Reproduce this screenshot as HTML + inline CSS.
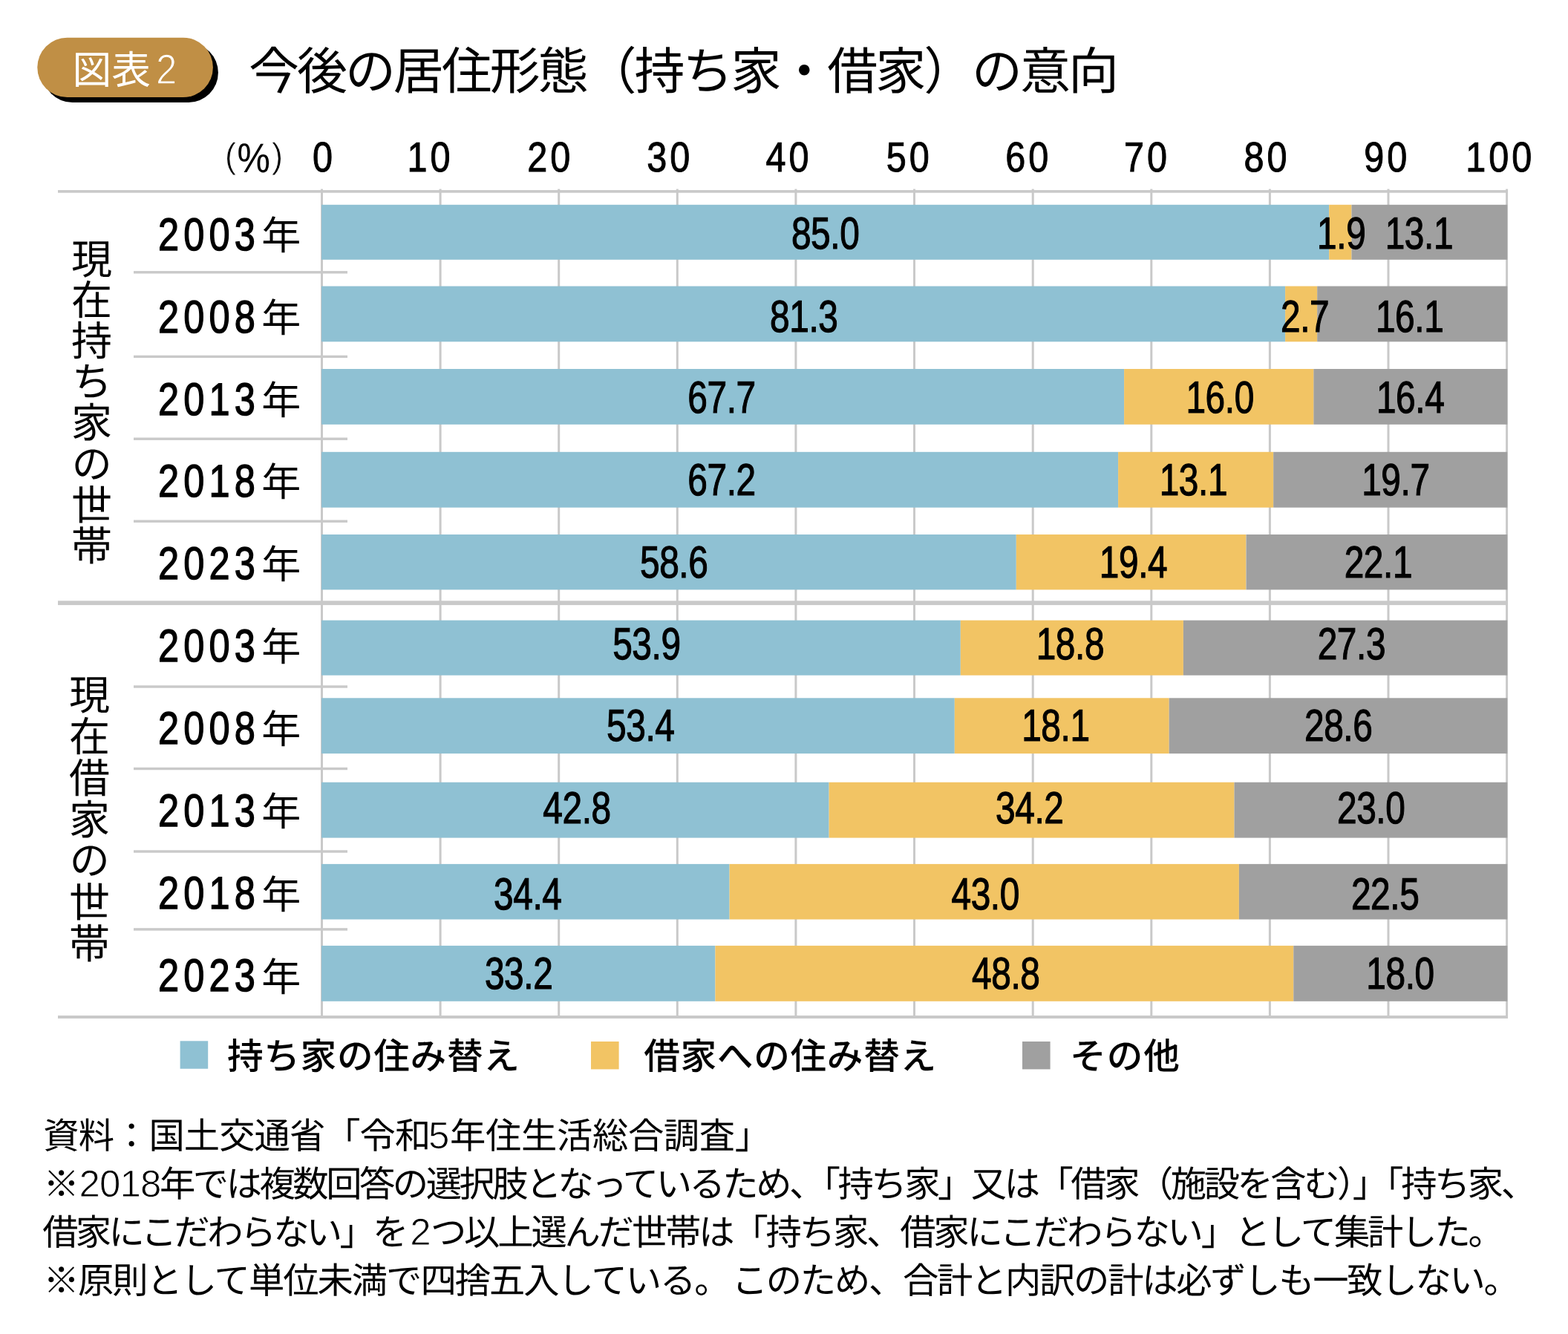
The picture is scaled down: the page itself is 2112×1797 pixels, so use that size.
<!DOCTYPE html>
<html lang="ja">
<head>
<meta charset="utf-8">
<title>図表2 今後の居住形態（持ち家・借家）の意向</title>
<style>
html,body{margin:0;padding:0;background:#fff}
body{width:2112px;height:1797px;overflow:hidden;font-family:"Liberation Sans","Noto Sans CJK JP",sans-serif}
svg{display:block;font-family:"Liberation Sans","Noto Sans CJK JP",sans-serif;text-rendering:geometricPrecision;will-change:transform}
.t{fill:#000;stroke:none;font-family:"Liberation Sans","Noto Sans CJK JP",sans-serif}
</style>
</head>
<body>
<svg width="2112" height="1797" viewBox="0 0 2112 1797">
<g fill="#c9c9c9">
<rect x="78" y="256.1" width="1953.0" height="3.6"/>
<rect x="78" y="1368" width="1953.0" height="4"/>
<rect x="78" y="809.3" width="1953.0" height="5.8"/>
<rect x="432.0" y="254.6" width="3" height="1115.4"/>
<rect x="591.6" y="254.6" width="3" height="1115.4"/>
<rect x="751.2" y="254.6" width="3" height="1115.4"/>
<rect x="910.8" y="254.6" width="3" height="1115.4"/>
<rect x="1070.4" y="254.6" width="3" height="1115.4"/>
<rect x="1230.0" y="254.6" width="3" height="1115.4"/>
<rect x="1389.7" y="254.6" width="3" height="1115.4"/>
<rect x="1549.3" y="254.6" width="3" height="1115.4"/>
<rect x="1708.9" y="254.6" width="3" height="1115.4"/>
<rect x="1868.5" y="254.6" width="3" height="1115.4"/>
<rect x="2028.1" y="254.6" width="3" height="1115.4"/>
<rect x="180" y="365.1" width="288" height="3.4"/>
<rect x="180" y="478.7" width="288" height="3.4"/>
<rect x="180" y="589.5" width="288" height="3.4"/>
<rect x="180" y="700.5" width="288" height="3.4"/>
<rect x="180" y="923.3" width="288" height="3.4"/>
<rect x="180" y="1033.8" width="288" height="3.4"/>
<rect x="180" y="1145.3" width="288" height="3.4"/>
<rect x="180" y="1250.2" width="288" height="3.4"/>
</g>
<rect x="433" y="275.8" width="1357.2" height="74.0" fill="#8fc1d3"/>
<rect x="1790.2" y="275.8" width="30.3" height="74.0" fill="#f2c464"/>
<rect x="1820.5" y="275.8" width="209.7" height="74.0" fill="#a0a0a0"/>
<rect x="433" y="385.5" width="1298.1" height="74.8" fill="#8fc1d3"/>
<rect x="1731.1" y="385.5" width="43.1" height="74.8" fill="#f2c464"/>
<rect x="1774.2" y="385.5" width="256.0" height="74.8" fill="#a0a0a0"/>
<rect x="433" y="497.0" width="1081.1" height="74.8" fill="#8fc1d3"/>
<rect x="1514.1" y="497.0" width="255.4" height="74.8" fill="#f2c464"/>
<rect x="1769.4" y="497.0" width="260.8" height="74.8" fill="#a0a0a0"/>
<rect x="433" y="608.8" width="1073.1" height="74.9" fill="#8fc1d3"/>
<rect x="1506.1" y="608.8" width="209.1" height="74.9" fill="#f2c464"/>
<rect x="1715.2" y="608.8" width="315.0" height="74.9" fill="#a0a0a0"/>
<rect x="433" y="720.0" width="935.8" height="74.4" fill="#8fc1d3"/>
<rect x="1368.8" y="720.0" width="309.6" height="74.4" fill="#f2c464"/>
<rect x="1678.5" y="720.0" width="351.7" height="74.4" fill="#a0a0a0"/>
<rect x="433" y="835.6" width="860.8" height="74.1" fill="#8fc1d3"/>
<rect x="1293.8" y="835.6" width="300.1" height="74.1" fill="#f2c464"/>
<rect x="1593.9" y="835.6" width="436.3" height="74.1" fill="#a0a0a0"/>
<rect x="433" y="940.3" width="852.8" height="74.8" fill="#8fc1d3"/>
<rect x="1285.8" y="940.3" width="288.9" height="74.8" fill="#f2c464"/>
<rect x="1574.7" y="940.3" width="455.5" height="74.8" fill="#a0a0a0"/>
<rect x="433" y="1053.8" width="683.6" height="74.8" fill="#8fc1d3"/>
<rect x="1116.6" y="1053.8" width="545.9" height="74.8" fill="#f2c464"/>
<rect x="1662.5" y="1053.8" width="367.7" height="74.8" fill="#a0a0a0"/>
<rect x="433" y="1163.9" width="549.6" height="74.6" fill="#8fc1d3"/>
<rect x="982.6" y="1163.9" width="686.3" height="74.6" fill="#f2c464"/>
<rect x="1668.9" y="1163.9" width="361.3" height="74.6" fill="#a0a0a0"/>
<rect x="433" y="1273.9" width="530.4" height="74.9" fill="#8fc1d3"/>
<rect x="963.4" y="1273.9" width="778.9" height="74.9" fill="#f2c464"/>
<rect x="1742.3" y="1273.9" width="287.9" height="74.9" fill="#a0a0a0"/>
<rect x="57.3" y="57.7" width="236.6" height="80.3" rx="40.15" fill="#000"/>
<rect x="50.3" y="50.7" width="236.6" height="80.3" rx="40.15" fill="#c08f45"/>
<text class="t" x="97.6" y="113.3" font-size="52.7" style="fill:#fff">図表</text>
<text transform="translate(224.20 113.20) scale(0.8930 1)" x="0.00" font-size="57.00" text-anchor="middle" fill="#fff" stroke="#c08f45" stroke-width="1.30">2</text>
<text class="t" x="335.0" y="120.4" font-size="68" textLength="1172" lengthAdjust="spacing">今後の居住形態（持ち家・借家）の意向</text>
<text transform="translate(434.50 231.30) scale(0.8600 1)" x="2.33" font-size="56.50" text-anchor="middle" fill="#000" stroke="#000" stroke-width="1.00" style="letter-spacing:4.65px;">0</text>
<text transform="translate(577.50 231.30) scale(0.8600 1)" x="2.33" font-size="56.50" text-anchor="middle" fill="#000" stroke="#000" stroke-width="1.00" style="letter-spacing:4.65px;">10</text>
<text transform="translate(739.30 231.30) scale(0.8600 1)" x="2.33" font-size="56.50" text-anchor="middle" fill="#000" stroke="#000" stroke-width="1.00" style="letter-spacing:4.65px;">20</text>
<text transform="translate(900.20 231.30) scale(0.8600 1)" x="2.33" font-size="56.50" text-anchor="middle" fill="#000" stroke="#000" stroke-width="1.00" style="letter-spacing:4.65px;">30</text>
<text transform="translate(1060.40 231.30) scale(0.8600 1)" x="2.33" font-size="56.50" text-anchor="middle" fill="#000" stroke="#000" stroke-width="1.00" style="letter-spacing:4.65px;">40</text>
<text transform="translate(1222.80 231.30) scale(0.8600 1)" x="2.33" font-size="56.50" text-anchor="middle" fill="#000" stroke="#000" stroke-width="1.00" style="letter-spacing:4.65px;">50</text>
<text transform="translate(1383.30 231.30) scale(0.8600 1)" x="2.33" font-size="56.50" text-anchor="middle" fill="#000" stroke="#000" stroke-width="1.00" style="letter-spacing:4.65px;">60</text>
<text transform="translate(1543.00 231.30) scale(0.8600 1)" x="2.33" font-size="56.50" text-anchor="middle" fill="#000" stroke="#000" stroke-width="1.00" style="letter-spacing:4.65px;">70</text>
<text transform="translate(1704.60 231.30) scale(0.8600 1)" x="2.33" font-size="56.50" text-anchor="middle" fill="#000" stroke="#000" stroke-width="1.00" style="letter-spacing:4.65px;">80</text>
<text transform="translate(1866.30 231.30) scale(0.8600 1)" x="2.33" font-size="56.50" text-anchor="middle" fill="#000" stroke="#000" stroke-width="1.00" style="letter-spacing:4.65px;">90</text>
<text transform="translate(2018.80 231.30) scale(0.8600 1)" x="2.33" font-size="56.50" text-anchor="middle" fill="#000" stroke="#000" stroke-width="1.00" style="letter-spacing:4.65px;">100</text>
<text transform="translate(310.60 225.90) scale(0.9700 1)" x="0.00" font-size="48.00" text-anchor="middle" fill="#000" stroke="#fff" stroke-width="0.90">(</text>
<text transform="translate(341.70 231.60) scale(0.8960 1)" x="0.00" font-size="55.70" text-anchor="middle" fill="#000" stroke="#000" stroke-width="0.10">%</text>
<text transform="translate(373.60 225.90) scale(0.9700 1)" x="0.00" font-size="48.00" text-anchor="middle" fill="#000" stroke="#fff" stroke-width="0.90">)</text>
<text transform="translate(213.10 336.80) scale(0.8200 1)" x="0.00" font-size="61.60" text-anchor="start" fill="#000" stroke="#000" stroke-width="1.40" style="letter-spacing:7.45px;">2003</text>
<text class="t" x="352.2" y="335.9" font-size="53.0">年</text>
<text transform="translate(1111.80 334.70) scale(0.7900 1)" x="-0.25" font-size="60.50" text-anchor="middle" fill="#000" stroke="#000" stroke-width="1.20" style="letter-spacing:-0.50px;">85.0</text>
<text transform="translate(1806.90 334.70) scale(0.7900 1)" x="-0.25" font-size="60.50" text-anchor="middle" fill="#000" stroke="#000" stroke-width="1.20" style="letter-spacing:-0.50px;">1.9</text>
<text transform="translate(1911.60 334.70) scale(0.7900 1)" x="-0.25" font-size="60.50" text-anchor="middle" fill="#000" stroke="#000" stroke-width="1.20" style="letter-spacing:-0.50px;">13.1</text>
<text transform="translate(213.10 447.65) scale(0.8200 1)" x="0.00" font-size="61.60" text-anchor="start" fill="#000" stroke="#000" stroke-width="1.40" style="letter-spacing:7.45px;">2008</text>
<text class="t" x="352.2" y="446.7" font-size="53.0">年</text>
<text transform="translate(1083.00 446.50) scale(0.7900 1)" x="-0.25" font-size="60.50" text-anchor="middle" fill="#000" stroke="#000" stroke-width="1.20" style="letter-spacing:-0.50px;">81.3</text>
<text transform="translate(1757.80 446.50) scale(0.7900 1)" x="-0.25" font-size="60.50" text-anchor="middle" fill="#000" stroke="#000" stroke-width="1.20" style="letter-spacing:-0.50px;">2.7</text>
<text transform="translate(1898.80 446.50) scale(0.7900 1)" x="-0.25" font-size="60.50" text-anchor="middle" fill="#000" stroke="#000" stroke-width="1.20" style="letter-spacing:-0.50px;">16.1</text>
<text transform="translate(213.10 558.50) scale(0.8200 1)" x="0.00" font-size="61.60" text-anchor="start" fill="#000" stroke="#000" stroke-width="1.40" style="letter-spacing:7.45px;">2013</text>
<text class="t" x="352.2" y="557.5" font-size="53.0">年</text>
<text transform="translate(972.20 556.10) scale(0.7900 1)" x="-0.25" font-size="60.50" text-anchor="middle" fill="#000" stroke="#000" stroke-width="1.20" style="letter-spacing:-0.50px;">67.7</text>
<text transform="translate(1643.30 556.10) scale(0.7900 1)" x="-0.25" font-size="60.50" text-anchor="middle" fill="#000" stroke="#000" stroke-width="1.20" style="letter-spacing:-0.50px;">16.0</text>
<text transform="translate(1899.80 556.10) scale(0.7900 1)" x="-0.25" font-size="60.50" text-anchor="middle" fill="#000" stroke="#000" stroke-width="1.20" style="letter-spacing:-0.50px;">16.4</text>
<text transform="translate(213.10 669.35) scale(0.8200 1)" x="0.00" font-size="61.60" text-anchor="start" fill="#000" stroke="#000" stroke-width="1.40" style="letter-spacing:7.45px;">2018</text>
<text class="t" x="352.2" y="668.4" font-size="53.0">年</text>
<text transform="translate(972.20 666.60) scale(0.7900 1)" x="-0.25" font-size="60.50" text-anchor="middle" fill="#000" stroke="#000" stroke-width="1.20" style="letter-spacing:-0.50px;">67.2</text>
<text transform="translate(1607.60 666.60) scale(0.7900 1)" x="-0.25" font-size="60.50" text-anchor="middle" fill="#000" stroke="#000" stroke-width="1.20" style="letter-spacing:-0.50px;">13.1</text>
<text transform="translate(1880.10 666.60) scale(0.7900 1)" x="-0.25" font-size="60.50" text-anchor="middle" fill="#000" stroke="#000" stroke-width="1.20" style="letter-spacing:-0.50px;">19.7</text>
<text transform="translate(213.10 780.20) scale(0.8200 1)" x="0.00" font-size="61.60" text-anchor="start" fill="#000" stroke="#000" stroke-width="1.40" style="letter-spacing:7.45px;">2023</text>
<text class="t" x="352.2" y="779.2" font-size="53.0">年</text>
<text transform="translate(907.90 777.50) scale(0.7900 1)" x="-0.25" font-size="60.50" text-anchor="middle" fill="#000" stroke="#000" stroke-width="1.20" style="letter-spacing:-0.50px;">58.6</text>
<text transform="translate(1526.70 777.50) scale(0.7900 1)" x="-0.25" font-size="60.50" text-anchor="middle" fill="#000" stroke="#000" stroke-width="1.20" style="letter-spacing:-0.50px;">19.4</text>
<text transform="translate(1856.60 777.50) scale(0.7900 1)" x="-0.25" font-size="60.50" text-anchor="middle" fill="#000" stroke="#000" stroke-width="1.20" style="letter-spacing:-0.50px;">22.1</text>
<text transform="translate(213.10 891.20) scale(0.8200 1)" x="0.00" font-size="61.60" text-anchor="start" fill="#000" stroke="#000" stroke-width="1.40" style="letter-spacing:7.45px;">2003</text>
<text class="t" x="352.2" y="890.2" font-size="53.0">年</text>
<text transform="translate(871.10 887.80) scale(0.7900 1)" x="-0.25" font-size="60.50" text-anchor="middle" fill="#000" stroke="#000" stroke-width="1.20" style="letter-spacing:-0.50px;">53.9</text>
<text transform="translate(1441.60 887.80) scale(0.7900 1)" x="-0.25" font-size="60.50" text-anchor="middle" fill="#000" stroke="#000" stroke-width="1.20" style="letter-spacing:-0.50px;">18.8</text>
<text transform="translate(1820.60 887.80) scale(0.7900 1)" x="-0.25" font-size="60.50" text-anchor="middle" fill="#000" stroke="#000" stroke-width="1.20" style="letter-spacing:-0.50px;">27.3</text>
<text transform="translate(213.10 1002.27) scale(0.8200 1)" x="0.00" font-size="61.60" text-anchor="start" fill="#000" stroke="#000" stroke-width="1.40" style="letter-spacing:7.45px;">2008</text>
<text class="t" x="352.2" y="1001.3" font-size="53.0">年</text>
<text transform="translate(863.00 997.90) scale(0.7900 1)" x="-0.25" font-size="60.50" text-anchor="middle" fill="#000" stroke="#000" stroke-width="1.20" style="letter-spacing:-0.50px;">53.4</text>
<text transform="translate(1422.10 997.90) scale(0.7900 1)" x="-0.25" font-size="60.50" text-anchor="middle" fill="#000" stroke="#000" stroke-width="1.20" style="letter-spacing:-0.50px;">18.1</text>
<text transform="translate(1802.90 997.90) scale(0.7900 1)" x="-0.25" font-size="60.50" text-anchor="middle" fill="#000" stroke="#000" stroke-width="1.20" style="letter-spacing:-0.50px;">28.6</text>
<text transform="translate(213.10 1113.34) scale(0.8200 1)" x="0.00" font-size="61.60" text-anchor="start" fill="#000" stroke="#000" stroke-width="1.40" style="letter-spacing:7.45px;">2013</text>
<text class="t" x="352.2" y="1112.4" font-size="53.0">年</text>
<text transform="translate(777.20 1109.20) scale(0.7900 1)" x="-0.25" font-size="60.50" text-anchor="middle" fill="#000" stroke="#000" stroke-width="1.20" style="letter-spacing:-0.50px;">42.8</text>
<text transform="translate(1387.00 1109.20) scale(0.7900 1)" x="-0.25" font-size="60.50" text-anchor="middle" fill="#000" stroke="#000" stroke-width="1.20" style="letter-spacing:-0.50px;">34.2</text>
<text transform="translate(1846.90 1109.20) scale(0.7900 1)" x="-0.25" font-size="60.50" text-anchor="middle" fill="#000" stroke="#000" stroke-width="1.20" style="letter-spacing:-0.50px;">23.0</text>
<text transform="translate(213.10 1224.41) scale(0.8200 1)" x="0.00" font-size="61.60" text-anchor="start" fill="#000" stroke="#000" stroke-width="1.40" style="letter-spacing:7.45px;">2018</text>
<text class="t" x="352.2" y="1223.5" font-size="53.0">年</text>
<text transform="translate(711.00 1224.50) scale(0.7900 1)" x="-0.25" font-size="60.50" text-anchor="middle" fill="#000" stroke="#000" stroke-width="1.20" style="letter-spacing:-0.50px;">34.4</text>
<text transform="translate(1327.40 1224.50) scale(0.7900 1)" x="-0.25" font-size="60.50" text-anchor="middle" fill="#000" stroke="#000" stroke-width="1.20" style="letter-spacing:-0.50px;">43.0</text>
<text transform="translate(1865.80 1224.50) scale(0.7900 1)" x="-0.25" font-size="60.50" text-anchor="middle" fill="#000" stroke="#000" stroke-width="1.20" style="letter-spacing:-0.50px;">22.5</text>
<text transform="translate(213.10 1335.48) scale(0.8200 1)" x="0.00" font-size="61.60" text-anchor="start" fill="#000" stroke="#000" stroke-width="1.40" style="letter-spacing:7.45px;">2023</text>
<text class="t" x="352.2" y="1334.5" font-size="53.0">年</text>
<text transform="translate(698.80 1332.20) scale(0.7900 1)" x="-0.25" font-size="60.50" text-anchor="middle" fill="#000" stroke="#000" stroke-width="1.20" style="letter-spacing:-0.50px;">33.2</text>
<text transform="translate(1355.00 1332.20) scale(0.7900 1)" x="-0.25" font-size="60.50" text-anchor="middle" fill="#000" stroke="#000" stroke-width="1.20" style="letter-spacing:-0.50px;">48.8</text>
<text transform="translate(1886.20 1332.20) scale(0.7900 1)" x="-0.25" font-size="60.50" text-anchor="middle" fill="#000" stroke="#000" stroke-width="1.20" style="letter-spacing:-0.50px;">18.0</text>
<text class="t" x="118.4" y="320.3" font-size="55.0" style="writing-mode:vertical-rl;letter-spacing:0.2px">現在持ち家の世帯</text>
<text class="t" x="115.5" y="907.8" font-size="55.0" style="writing-mode:vertical-rl;letter-spacing:0.8px">現在借家の世帯</text>
<rect x="242.6" y="1402.3" width="37.6" height="37.4" fill="#8fc1d3"/>
<rect x="796" y="1403" width="37.6" height="37.4" fill="#f2c464"/>
<rect x="1377" y="1403" width="37.6" height="37.4" fill="#a0a0a0"/>
<text class="t" x="305.9" y="1440.1" font-size="48.7" font-weight="500" textLength="394" lengthAdjust="spacing">持ち家の住み替え</text>
<text class="t" x="867.2" y="1440.1" font-size="48.7" font-weight="500" textLength="394" lengthAdjust="spacing">借家への住み替え</text>
<text class="t" x="1441.0" y="1440.1" font-size="48.7" font-weight="500" textLength="148" lengthAdjust="spacing">その他</text>
<text class="t" x="58.3" y="1547.0" font-size="48.3" textLength="522" lengthAdjust="spacing">資料：国土交通省「令和</text>
<text transform="translate(591.20 1547.00) scale(1.0000 1)" x="0.00" font-size="51.00" text-anchor="middle" fill="#000" stroke="#fff" stroke-width="0.90">5</text>
<text class="t" x="606.1" y="1547.0" font-size="48.3" textLength="432" lengthAdjust="spacing">年住生活総合調査」</text>
<text class="t" x="58.6" y="1611.6" font-size="48.3">※</text>
<text transform="translate(161.95 1611.60) scale(1.0000 1)" x="-0.43" font-size="51.00" text-anchor="middle" fill="#000" stroke="#fff" stroke-width="0.90" style="letter-spacing:-0.87px;">2018</text>
<text class="t" x="215.0" y="1611.6" font-size="48.3" textLength="1855" lengthAdjust="spacing">年では複数回答の選択肢となっているため、「持ち家」又は「借家（施設を含む）」「持ち家、</text>
<text class="t" x="57.3" y="1676.7" font-size="48.3" textLength="493" lengthAdjust="spacing">借家にこだわらない」を</text>
<text transform="translate(566.50 1676.70) scale(1.0000 1)" x="0.00" font-size="51.00" text-anchor="middle" fill="#000" stroke="#fff" stroke-width="0.90">2</text>
<text class="t" x="579.9" y="1676.7" font-size="48.3" textLength="1446" lengthAdjust="spacing">つ以上選んだ世帯は「持ち家、借家にこだわらない」として集計した。</text>
<text class="t" x="58.6" y="1741.7" font-size="48.3" textLength="925" lengthAdjust="spacing">※原則として単位未満で四捨五入している。</text>
<text class="t" x="985.8" y="1741.7" font-size="48.3" textLength="1061" lengthAdjust="spacing">このため、合計と内訳の計は必ずしも一致しない。</text>
</svg>
</body>
</html>
